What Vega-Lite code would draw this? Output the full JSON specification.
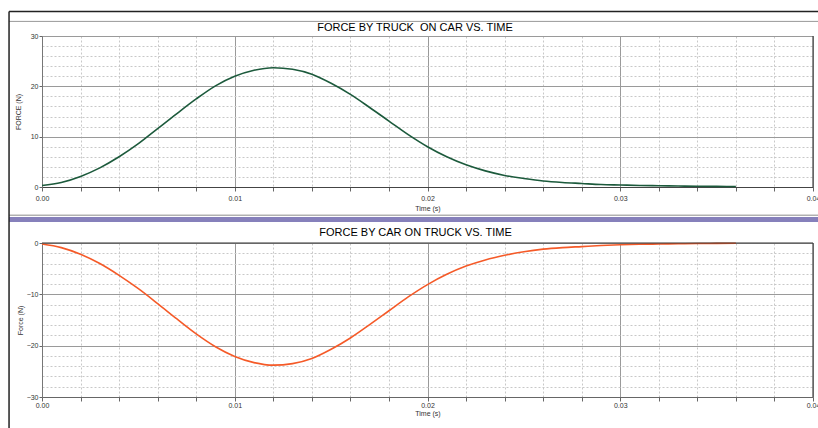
{
  "$schema": "https://vega.github.io/schema/vega-lite/v6.json",
  "padding": {"left": 6, "top": 10, "right": 0, "bottom": 0},
  "background": "white",
  "spacing": 56,
  "bounds": "flush",
  "config": {
    "font": "Liberation Sans",
    "view": {"stroke": "#a8a8a8"},
    "title": {"font": "Liberation Sans", "fontSize": 11, "fontWeight": "normal", "color": "#000"},
    "axis": {
      "labelFont": "Liberation Sans", "labelFontSize": 7, "labelColor": "#333",
      "titleFont": "Liberation Sans", "titleFontSize": 7, "titleFontWeight": "normal", "titleColor": "#333",
      "domainColor": "#555", "tickColor": "#666", "tickSize": 3, "labelFlush": false, "labelOverlap": false,
      "tickCount": 100
    }
  },
  "datasets": {
    "one": [{}],
    "titles": [{"label": "FORCE BY TRUCK\u00a0 ON CAR VS. TIME"}],
    "truck_on_car": [
      {"t": 0.000, "force": 0.3}, {"t": 0.001, "force": 0.9}, {"t": 0.002, "force": 2.1}, {"t": 0.003, "force": 3.8},
      {"t": 0.004, "force": 6.0}, {"t": 0.005, "force": 8.6}, {"t": 0.006, "force": 11.6}, {"t": 0.007, "force": 14.6},
      {"t": 0.008, "force": 17.5}, {"t": 0.009, "force": 20.1}, {"t": 0.010, "force": 22.0}, {"t": 0.011, "force": 23.2},
      {"t": 0.012, "force": 23.7}, {"t": 0.013, "force": 23.4}, {"t": 0.014, "force": 22.4}, {"t": 0.015, "force": 20.6},
      {"t": 0.016, "force": 18.4}, {"t": 0.017, "force": 15.8}, {"t": 0.018, "force": 13.1}, {"t": 0.019, "force": 10.4},
      {"t": 0.020, "force": 8.0}, {"t": 0.021, "force": 6.0}, {"t": 0.022, "force": 4.4}, {"t": 0.023, "force": 3.2},
      {"t": 0.024, "force": 2.3}, {"t": 0.025, "force": 1.7}, {"t": 0.026, "force": 1.2}, {"t": 0.027, "force": 0.9},
      {"t": 0.028, "force": 0.7}, {"t": 0.029, "force": 0.5}, {"t": 0.030, "force": 0.4}, {"t": 0.031, "force": 0.3},
      {"t": 0.032, "force": 0.25}, {"t": 0.033, "force": 0.2}, {"t": 0.034, "force": 0.15}, {"t": 0.035, "force": 0.12},
      {"t": 0.036, "force": 0.1}
    ],
    "car_on_truck": [
      {"t": 0.000, "force": -0.2}, {"t": 0.001, "force": -0.9}, {"t": 0.002, "force": -2.2}, {"t": 0.003, "force": -4.0},
      {"t": 0.004, "force": -6.3}, {"t": 0.005, "force": -8.9}, {"t": 0.006, "force": -11.8}, {"t": 0.007, "force": -14.8},
      {"t": 0.008, "force": -17.7}, {"t": 0.009, "force": -20.2}, {"t": 0.010, "force": -22.1}, {"t": 0.011, "force": -23.3},
      {"t": 0.012, "force": -23.8}, {"t": 0.013, "force": -23.5}, {"t": 0.014, "force": -22.5}, {"t": 0.015, "force": -20.7},
      {"t": 0.016, "force": -18.5}, {"t": 0.017, "force": -15.9}, {"t": 0.018, "force": -13.2}, {"t": 0.019, "force": -10.5},
      {"t": 0.020, "force": -8.1}, {"t": 0.021, "force": -6.1}, {"t": 0.022, "force": -4.5}, {"t": 0.023, "force": -3.3},
      {"t": 0.024, "force": -2.4}, {"t": 0.025, "force": -1.7}, {"t": 0.026, "force": -1.2}, {"t": 0.027, "force": -0.9},
      {"t": 0.028, "force": -0.7}, {"t": 0.029, "force": -0.5}, {"t": 0.030, "force": -0.35}, {"t": 0.031, "force": -0.25},
      {"t": 0.032, "force": -0.2}, {"t": 0.033, "force": -0.15}, {"t": 0.034, "force": -0.1}, {"t": 0.035, "force": -0.08},
      {"t": 0.036, "force": -0.05}
    ]
  },
  "vconcat": [
    {
      "width": 771,
      "height": 151,
      "layer": [
        {
          "data": {"name": "truck_on_car"},
          "mark": {"type": "line", "color": "#1c5a3c", "strokeWidth": 1.6, "interpolate": "monotone"},
          "encoding": {
            "x": {
              "field": "t", "type": "quantitative",
              "scale": {"domain": [0, 0.04], "nice": false, "zero": false},
              "axis": {
                "title": "Time (s)", "titlePadding": 3,
                "values": [0, 0.002, 0.004, 0.006, 0.008, 0.01, 0.012, 0.014, 0.016, 0.018, 0.02, 0.022, 0.024, 0.026, 0.028, 0.03, 0.032, 0.034, 0.036, 0.038, 0.04],
                "labelExpr": "abs(datum.value*100 - round(datum.value*100)) < 0.000001 ? format(datum.value, '.2f') : ''",
                "labelPadding": 3, "tickSize": 4,
                "grid": true,
                "gridColor": {"condition": {"test": "abs(datum.value*100 - round(datum.value*100)) < 0.000001", "value": "#9a9a9a"}, "value": "#c8c8c8"},
                "gridDash": {"condition": {"test": "abs(datum.value*100 - round(datum.value*100)) < 0.000001", "value": []}, "value": [2, 2]},
                "domainColor": "#444"
              }
            },
            "y": {
              "field": "force", "type": "quantitative",
              "scale": {"domain": [0, 30], "nice": false},
              "axis": {
                "title": "FORCE (N)", "titlePadding": 9,
                "values": [0, 2, 4, 6, 8, 10, 12, 14, 16, 18, 20, 22, 24, 26, 28, 30],
                "labelExpr": "datum.value % 10 == 0 ? format(datum.value, 'd') : ''",
                "labelPadding": 1,
                "tickOpacity": {"condition": {"test": "datum.value % 10 == 0", "value": 1}, "value": 0},
                "grid": true,
                "gridColor": {"condition": {"test": "datum.value % 10 == 0", "value": "#9a9a9a"}, "value": "#c8c8c8"},
                "gridDash": {"condition": {"test": "datum.value % 10 == 0", "value": []}, "value": [2, 2]},
                "domainColor": "#777"
              }
            }
          }
        },
        {
          "data": {"name": "titles"},
          "mark": {"type": "text", "font": "Liberation Sans", "fontSize": 11, "color": "#000", "align": "center", "baseline": "middle"},
          "encoding": {"text": {"field": "label"}, "x": {"datum": 0.01935}, "y": {"datum": 31.6}}
        },
        {
          "data": {"name": "one"},
          "mark": {"type": "rule", "color": "#8a8a8a", "strokeWidth": 1},
          "encoding": {"y": {"datum": -5.6}, "x": {"datum": -0.00171}, "x2": {"datum": 0.0403}}
        },
        {
          "data": {"name": "one"},
          "mark": {"type": "rule", "color": "#8680bb", "strokeWidth": 5},
          "encoding": {"y": {"datum": -6.45}, "x": {"datum": -0.00171}, "x2": {"datum": 0.0403}}
        },
        {
          "data": {"name": "one"},
          "mark": {"type": "rule", "color": "#222", "strokeWidth": 1.5},
          "encoding": {"y": {"datum": 34.85}, "x": {"datum": -0.00171}, "x2": {"datum": 0.0403}}
        },
        {
          "data": {"name": "one"},
          "mark": {"type": "rule", "color": "#999", "strokeWidth": 1},
          "encoding": {"y": {"datum": 32.9}, "x": {"datum": -0.00171}, "x2": {"datum": 0.0403}}
        },
        {
          "data": {"name": "one"},
          "mark": {"type": "rule", "color": "#222", "strokeWidth": 1.5},
          "encoding": {"x": {"datum": -0.00171}, "y": {"datum": 34.85}, "y2": {"datum": -48}}
        },
        {
          "data": {"name": "one"},
          "mark": {"type": "rule", "color": "#444", "strokeWidth": 1.2},
          "encoding": {"x": {"datum": 0.04}, "y": {"datum": 0}, "y2": {"datum": 30}}
        }
      ]
    },
    {
      "width": 771,
      "height": 154,
      "title": {"text": "FORCE BY CAR ON TRUCK VS. TIME", "offset": 1, "dx": -12},
      "layer": [
        {
          "data": {"name": "car_on_truck"},
          "mark": {"type": "line", "color": "#f55a28", "strokeWidth": 1.6, "interpolate": "monotone"},
          "encoding": {
            "x": {
              "field": "t", "type": "quantitative",
              "scale": {"domain": [0, 0.04], "nice": false, "zero": false},
              "axis": {
                "title": "Time (s)", "titlePadding": 1,
                "values": [0, 0.002, 0.004, 0.006, 0.008, 0.01, 0.012, 0.014, 0.016, 0.018, 0.02, 0.022, 0.024, 0.026, 0.028, 0.03, 0.032, 0.034, 0.036, 0.038, 0.04],
                "labelExpr": "abs(datum.value*100 - round(datum.value*100)) < 0.000001 ? format(datum.value, '.2f') : ''",
                "labelPadding": 0, "tickSize": 4,
                "grid": true,
                "gridColor": {"condition": {"test": "abs(datum.value*100 - round(datum.value*100)) < 0.000001", "value": "#9a9a9a"}, "value": "#c8c8c8"},
                "gridDash": {"condition": {"test": "abs(datum.value*100 - round(datum.value*100)) < 0.000001", "value": []}, "value": [2, 2]},
                "domainColor": "#666"
              }
            },
            "y": {
              "field": "force", "type": "quantitative",
              "scale": {"domain": [-30, 0], "nice": false},
              "axis": {
                "title": "Force (N)", "titlePadding": 3,
                "values": [-30, -28, -26, -24, -22, -20, -18, -16, -14, -12, -10, -8, -6, -4, -2, 0],
                "labelExpr": "datum.value % 10 == 0 ? format(datum.value, 'd') : ''",
                "labelPadding": 1,
                "tickOpacity": {"condition": {"test": "datum.value % 10 == 0", "value": 1}, "value": 0},
                "grid": true,
                "gridColor": {"condition": {"test": "datum.value % 10 == 0", "value": "#9a9a9a"}, "value": "#c8c8c8"},
                "gridDash": {"condition": {"test": "datum.value % 10 == 0", "value": []}, "value": [2, 2]},
                "domainColor": "#777"
              }
            }
          }
        },
        {
          "data": {"name": "one"},
          "mark": {"type": "rule", "color": "#333", "strokeWidth": 1.2},
          "encoding": {"y": {"datum": 0}}
        },
        {
          "data": {"name": "one"},
          "mark": {"type": "rule", "color": "#444", "strokeWidth": 1.2},
          "encoding": {"x": {"datum": 0.04}}
        }
      ]
    }
  ]
}
